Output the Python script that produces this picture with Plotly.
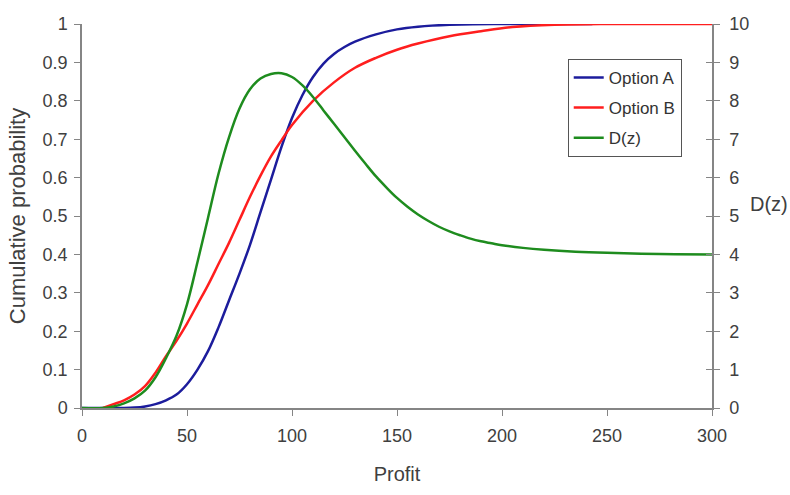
import plotly.graph_objects as go

# Option A (blue)
xa = [0, 10, 20, 25, 30, 35, 40, 45, 50, 55, 60, 65, 70, 75, 80, 85, 90, 95, 100,
      105, 110, 115, 120, 125, 130, 140, 150, 160, 175, 200, 243]
ya = [0, 0, 0, 0.001, 0.004, 0.01, 0.02, 0.035, 0.062, 0.10, 0.148, 0.21, 0.28, 0.35,
      0.425, 0.51, 0.595, 0.68, 0.755, 0.815, 0.862, 0.897, 0.922, 0.94, 0.954, 0.973,
      0.986, 0.993, 0.998, 1.0, 1.0]

# Option B (red)
xb = [10, 15, 20, 25, 30, 35, 40, 45, 50, 55, 60, 65, 70, 75, 80, 85, 90, 95, 100,
      110, 120, 130, 140, 150, 160, 175, 190, 205, 225, 250, 300]
yb = [0, 0.01, 0.02, 0.035, 0.057, 0.092, 0.135, 0.175, 0.22, 0.27, 0.32, 0.375, 0.43,
      0.49, 0.55, 0.605, 0.655, 0.697, 0.737, 0.80, 0.848, 0.886, 0.912, 0.933, 0.949,
      0.968, 0.981, 0.992, 0.998, 1.0, 1.0]

# D(z) (green, right axis)
xd = [0, 10, 15, 20, 25, 30, 35, 40, 45, 50, 55, 60, 65, 70, 75, 80, 85, 90, 95, 100,
      105, 110, 115, 120, 125, 130, 135, 140, 145, 150, 155, 160, 165, 170, 175, 180,
      185, 190, 195, 200, 210, 220, 235, 250, 275, 300]
yd = [0, 0, 0.04, 0.12, 0.25, 0.45, 0.8, 1.3, 1.88, 2.7, 3.8, 4.95, 6.1, 7.05, 7.8, 8.3,
      8.58, 8.7, 8.72, 8.62, 8.4, 8.1, 7.75, 7.4, 7.05, 6.7, 6.36, 6.03, 5.74, 5.47,
      5.24, 5.04, 4.87, 4.72, 4.6, 4.5, 4.41, 4.34, 4.29, 4.24, 4.17, 4.12, 4.07, 4.04,
      4.01, 4.0]

x_ticks = [0, 50, 100, 150, 200, 250, 300]
y_ticks = [0, 0.1, 0.2, 0.3, 0.4, 0.5, 0.6, 0.7, 0.8, 0.9, 1]
y2_ticks = [0, 1, 2, 3, 4, 5, 6, 7, 8, 9, 10]

FONT = "Liberation Sans, Arial, sans-serif"
AX = "#858585"
TXT = "#404040"

fig = go.Figure()
fig.add_trace(go.Scatter(x=xa, y=ya, name="Option A", mode="lines", line_shape="spline",
                         line=dict(color="#1c1c9c", width=2.5), legendgroup="a"))
fig.add_trace(go.Scatter(x=xb, y=yb, name="Option B", mode="lines", line_shape="spline",
                         line=dict(color="#ff1e1e", width=2.5), legendgroup="b"))
fig.add_trace(go.Scatter(x=xd, y=yd, name="D(z)", mode="lines", line_shape="spline",
                         line=dict(color="#1e8c1e", width=2.5), yaxis="y2", legendgroup="d"))

fig.update_layout(
    width=790, height=495,
    margin=dict(l=82, r=78, t=24, b=87, autoexpand=False),
    paper_bgcolor="white", plot_bgcolor="white",
    font=dict(family=FONT, color=TXT, size=17),
    showlegend=True,
    legend=dict(x=0.771, y=0.909, xanchor="left", yanchor="top",
                bordercolor="#555555", borderwidth=1, bgcolor="white",
                font=dict(size=17, color="#333"), tracegroupgap=5,
                itemwidth=30),
    xaxis=dict(range=[0, 300], tickvals=x_ticks, showgrid=False, zeroline=False,
               showline=True, linecolor=AX, linewidth=1.5, ticks="outside",
               ticklen=6, tickcolor=AX, tickfont=dict(size=18), ticklabelstandoff=5,
               automargin=False,
               title=dict(text="Profit", font=dict(size=20), standoff=22)),
    yaxis=dict(range=[0, 1], tickvals=y_ticks, ticktext=[str(v) for v in y_ticks],
               showgrid=False, zeroline=False, showline=True, linecolor=AX,
               linewidth=1.5, ticks="outside", ticklen=6, tickcolor=AX,
               tickfont=dict(size=18), ticklabelstandoff=3, automargin=False,
               title=dict(text="Cumulative probability", font=dict(size=22), standoff=11)),
    yaxis2=dict(range=[0, 10], tickvals=y2_ticks, overlaying="y", side="right",
                showgrid=False, zeroline=False, showline=True, linecolor=AX,
                linewidth=1.5, ticks="outside", ticklen=6, tickcolor=AX,
                tickfont=dict(size=18), ticklabelstandoff=6, automargin=False),
    yaxis3=dict(range=[0, 10], tickvals=y2_ticks, overlaying="y", side="right",
                showgrid=False, zeroline=False, showline=False, ticks="inside",
                ticklen=6, tickcolor=AX, showticklabels=False, automargin=False),
    annotations=[dict(text="D(z)", x=1.0, xshift=36, y=0.53, xref="paper", yref="paper",
                      xanchor="left", yanchor="middle", showarrow=False,
                      font=dict(size=20, color=TXT))],
)
# invisible trace so that the inner tick marks of the right axis are drawn
fig.add_trace(go.Scatter(x=[None], y=[None], yaxis="y3", showlegend=False, hoverinfo="skip"))

fig.write_html("out.html")
